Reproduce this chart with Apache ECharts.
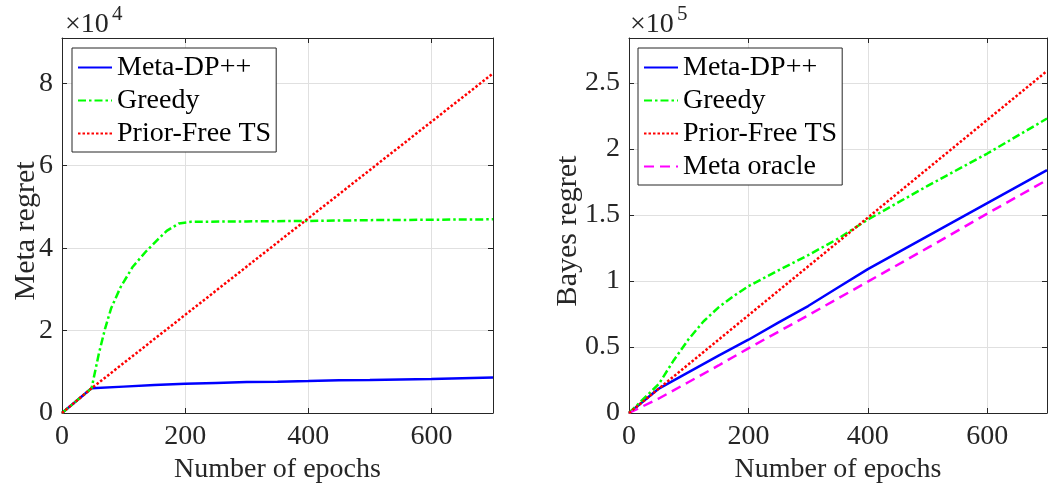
<!DOCTYPE html>
<html>
<head>
<meta charset="utf-8">
<script src="https://cdn.jsdelivr.net/npm/echarts@6/dist/echarts.min.js"></script>
<style>
  html, body { margin: 0; padding: 0; background: #fff; }
  #chart { width: 1050px; height: 490px; }
</style>
</head>
<body>
<div id="chart"></div>
<script>
// left panel: meta regret
const leftMetaEpochs = [0, 48, 100, 150, 200, 250, 300, 350, 400, 450, 500, 600, 700]
const leftMetaDP = [0, 6000, 6400, 6800, 7100, 7300, 7500, 7600, 7750, 7950, 8000, 8250, 8600]
const leftGreedyEpochs = [0, 48, 60, 70, 80, 95, 115, 137, 155, 170, 190, 210, 300, 400, 500, 600, 700]
const leftGreedy = [0, 6000, 14500, 20500, 25500, 30500, 35500, 39300, 42000, 44200, 46000, 46400, 46500, 46600, 46800, 46900, 47000]
const leftTSEpochs = [0, 48, 700]
const leftTS = [0, 6000, 82400]

// right panel: bayes regret
const rightMetaEpochs = [0, 50, 100, 150, 200, 250, 300, 350, 400, 500, 600, 700]
const rightMetaDP = [0, 18500, 31000, 43500, 55500, 68500, 81000, 95000, 109000, 134000, 159000, 184000]
const rightGreedyEpochs = [0, 50, 75, 100, 125, 150, 175, 200, 250, 300, 350, 400, 500, 600, 700]
const rightGreedy = [0, 22000, 40000, 56000, 69500, 80000, 88500, 96000, 108000, 119500, 132000, 146500, 172000, 196500, 223000]
const rightTSEpochs = [0, 50, 700]
const rightTS = [0, 18500, 259000]
const rightOracleEpochs = [0, 50, 100, 150, 200, 300, 400, 500, 600, 700]
const rightOracle = [0, 11000, 23500, 36000, 49000, 74000, 99500, 125000, 151000, 176500]

const xTicks = [0, 200, 400, 600]
const leftYTicks = [0, 2, 4, 6, 8]
const rightYTicks = [0, 0.5, 1, 1.5, 2, 2.5]

const FONT = "'Liberation Serif', 'DejaVu Serif', serif"
const AXIS = '#262626'

function pairs (xs, ys) {
  return xs.map((x, i) => [x, ys[i]])
}

function tickFormatter (ticks, scale) {
  return v => {
    const t = ticks.find(k => Math.abs(k * scale - v) < 1e-6)
    return t === undefined ? '' : String(t)
  }
}

function mainX (gridIndex) {
  return {
    type: 'value',
    gridIndex,
    position: 'bottom',
    min: 0,
    max: 700,
    interval: 200,
    name: 'Number of epochs',
    nameLocation: 'middle',
    nameGap: 43,
    nameMoveOverlap: false,
    nameTextStyle: { fontFamily: FONT, fontSize: 28, color: AXIS },
    axisLine: { show: true, onZero: false, lineStyle: { color: AXIS, width: 1 } },
    axisTick: { show: true, inside: true, length: 5, lineStyle: { color: AXIS } },
    axisLabel: { fontFamily: FONT, fontSize: 28, color: AXIS, margin: 10, formatter: tickFormatter(xTicks, 1) },
    splitLine: { show: true, lineStyle: { color: '#e0e0e0', width: 1 } }
  }
}

function boxX (gridIndex) {
  return {
    type: 'value',
    gridIndex,
    position: 'top',
    min: 0,
    max: 700,
    interval: 200,
    axisLine: { show: true, onZero: false, lineStyle: { color: AXIS, width: 1 } },
    axisTick: { show: true, inside: true, length: 5, lineStyle: { color: AXIS } },
    axisLabel: { show: false },
    splitLine: { show: false }
  }
}

function mainY (gridIndex, name, max, interval, ticks, scale, nameGap) {
  return {
    type: 'value',
    gridIndex,
    position: 'left',
    min: 0,
    max,
    interval,
    name,
    nameLocation: 'middle',
    nameGap,
    nameMoveOverlap: false,
    nameTextStyle: { fontFamily: FONT, fontSize: 30, color: AXIS, padding: [0, 11, 0, 0] },
    axisLine: { show: true, onZero: false, lineStyle: { color: AXIS, width: 1 } },
    axisTick: { show: true, inside: true, length: 5, lineStyle: { color: AXIS } },
    axisLabel: { fontFamily: FONT, fontSize: 28, color: AXIS, margin: 9, formatter: tickFormatter(ticks, scale) },
    splitLine: { show: true, lineStyle: { color: '#e0e0e0', width: 1 } }
  }
}

function boxY (gridIndex, max, interval) {
  return {
    type: 'value',
    gridIndex,
    position: 'right',
    min: 0,
    max,
    interval,
    axisLine: { show: true, onZero: false, lineStyle: { color: AXIS, width: 1 } },
    axisTick: { show: true, inside: true, length: 5, lineStyle: { color: AXIS } },
    axisLabel: { show: false },
    splitLine: { show: false }
  }
}

function line (name, data, xi, yi, color, type, z) {
  return {
    name,
    type: 'line',
    xAxisIndex: xi,
    yAxisIndex: yi,
    data,
    symbol: 'none',
    smooth: false,
    z,
    lineStyle: { color, width: 2.5, type, cap: 'butt' },
    itemStyle: { color }
  }
}

function legend (left, names) {
  return {
    orient: 'vertical',
    left,
    top: 48,
    data: names,
    selectedMode: false,
    itemWidth: 34,
    itemHeight: 12,
    itemGap: 0,
    itemTextGap: 4,
    padding: [3, 5, 2, 5],
    borderColor: AXIS,
    borderWidth: 1,
    backgroundColor: '#fff',
    // hide the marker dot, keep the line sample
    itemStyle: { opacity: 0 },
    textStyle: { fontFamily: FONT, fontSize: 28, color: '#000', lineHeight: 33 }
  }
}

const DASHDOT = [8, 3, 2.5, 3]
const DOTTED = [2.5, 2]
const DASHED = [10, 6]

const option = {
  animation: false,
  backgroundColor: '#fff',
  grid: [
    { left: 62, right: 557, top: 38, bottom: 77 },
    { left: 629, right: -9, top: 38, bottom: 77 }
  ],
  xAxis: [mainX(0), boxX(0), mainX(1), boxX(1)],
  yAxis: [
    mainY(0, 'Meta regret', 91000, 20000, leftYTicks, 1e4, 21),
    boxY(0, 91000, 20000),
    mainY(1, 'Bayes regret', 284000, 50000, rightYTicks, 1e5, 46),
    boxY(1, 284000, 50000)
  ],
  legend: [
    legend(72, ['Meta-DP++', 'Greedy', 'Prior-Free TS']),
    legend(638, ['Meta-DP++', 'Greedy', 'Prior-Free TS', 'Meta oracle'])
  ],
  graphic: [
    { type: 'text', left: 65, top: 11, style: { text: '×10', fontFamily: FONT, fontSize: 28, fill: AXIS } },
    { type: 'text', left: 112, top: 4, style: { text: '4', fontFamily: FONT, fontSize: 21, fill: AXIS } },
    { type: 'text', left: 630, top: 11, style: { text: '×10', fontFamily: FONT, fontSize: 28, fill: AXIS } },
    { type: 'text', left: 677, top: 4, style: { text: '5', fontFamily: FONT, fontSize: 21, fill: AXIS } }
  ],
  series: [
    line('Meta-DP++', pairs(leftMetaEpochs, leftMetaDP), 0, 0, '#0000ff', 'solid', 2),
    line('Greedy', pairs(leftGreedyEpochs, leftGreedy), 0, 0, '#00ff00', DASHDOT, 3),
    line('Prior-Free TS', pairs(leftTSEpochs, leftTS), 0, 0, '#ff0000', DOTTED, 4),
    line('Meta-DP++', pairs(rightMetaEpochs, rightMetaDP), 2, 2, '#0000ff', 'solid', 2),
    line('Greedy', pairs(rightGreedyEpochs, rightGreedy), 2, 2, '#00ff00', DASHDOT, 3),
    line('Prior-Free TS', pairs(rightTSEpochs, rightTS), 2, 2, '#ff0000', DOTTED, 4),
    line('Meta oracle', pairs(rightOracleEpochs, rightOracle), 2, 2, '#ff00ff', DASHED, 3)
  ]
}

const myChart = echarts.init(document.getElementById('chart'))
myChart.setOption(option)
</script>
</body>
</html>
